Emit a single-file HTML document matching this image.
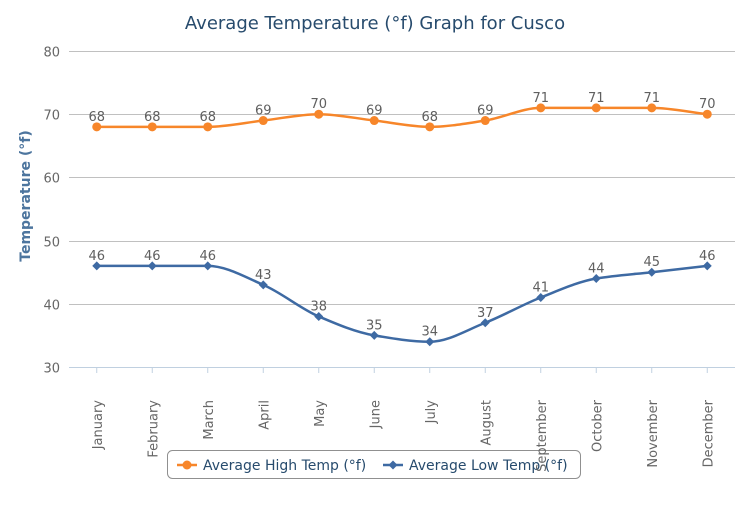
<!DOCTYPE html>
<html><head><meta charset="utf-8"><style>
body{margin:0;background:#fff;font-family:"Liberation Sans","DejaVu Sans",sans-serif}
svg text{font-family:"DejaVu Sans","Liberation Sans",sans-serif}
</style></head><body>
<svg id="c" width="750" height="500">
<text x="375" y="29" text-anchor="middle" font-size="18" fill="#274b6d">Average Temperature (°f) Graph for Cusco</text>
<text transform="translate(30,196) rotate(-90)" text-anchor="middle" font-size="14" font-weight="bold" fill="#4d759e">Temperature (°f)</text>
<g>
<rect x="167.5" y="450.5" width="413" height="28" rx="5" fill="#fff" stroke="#909090"/>
<g>
<line x1="177" y1="465" x2="197" y2="465" stroke="#f7862a" stroke-width="2.5"/><circle cx="187" cy="465" r="4.5" fill="#f7862a"/>
<text x="203" y="470" font-size="14" fill="#274b6d">Average High Temp (°f)</text></g>
<g>
<line x1="383" y1="465" x2="403" y2="465" stroke="#3e6aa3" stroke-width="2.5"/><path d="M393 460.5 L397.5 465 L393 469.5 L388.5 465Z" fill="#3e6aa3"/>
<text x="409" y="470" font-size="14" fill="#274b6d">Average Low Temp (°f)</text></g>
</g>
<g id="grid"></g><g id="xl"></g><g id="series"></g>
</svg>
<script>
const categories=["January","February","March","April","May","June","July","August","September","October","November","December"];
const highTemps=[68,68,68,69,70,69,68,69,71,71,71,70];
const lowTemps=[46,46,46,43,38,35,34,37,41,44,45,46];
const yTicks=[30,40,50,60,70,80];
const NS="http://www.w3.org/2000/svg";
const L=69,R=735,T=51,B=367,ymin=30,ymax=80;
const step=(R-L)/categories.length;
const xs=i=>L+step*(i+0.5);
const ys=v=>B-(v-ymin)/(ymax-ymin)*(B-T);
function mk(tag,attrs,parent){const e=document.createElementNS(NS,tag);for(const k in attrs)e.setAttribute(k,attrs[k]);parent.appendChild(e);return e;}
const grid=document.getElementById('grid');
yTicks.forEach(t=>{
 const y=Math.round(ys(t))+0.5;
 const l=mk('line',{x1:L,x2:R,y1:y,y2:y,stroke:t===ymin?'#c0d0e0':'#c0c0c0','stroke-width':1},grid);
 
 
 const tx=mk('text',{x:L-9,y:y+5,'text-anchor':'end','font-size':13,fill:'#666'},grid);
 tx.textContent=t;
 
 
});
const xl=document.getElementById('xl');
categories.forEach((c,i)=>{
 const x=xs(i);
 const tk=mk('line',{x1:x,x2:x,y1:B,y2:B+6,stroke:'#c0d0e0'},xl);
 
 
 const t=mk('text',{transform:`translate(${x+5},400) rotate(-90)`,'text-anchor':'end','font-size':13,fill:'#666'},xl);
 t.textContent=c;
 
 
});
function spline(pts){
 const n=pts.length,d=[],m=new Array(n);
 for(let i=0;i<n-1;i++)d.push((pts[i+1][1]-pts[i][1])/(pts[i+1][0]-pts[i][0]));
 m[0]=d[0];m[n-1]=d[n-2];
 for(let i=1;i<n-1;i++){m[i]=(d[i-1]*d[i]<=0)?0:2/(1/d[i-1]+1/d[i]);}
 let s=`M${pts[0][0]} ${pts[0][1]}`;
 for(let i=0;i<n-1;i++){
  const h=(pts[i+1][0]-pts[i][0])/3;
  s+=` C${pts[i][0]+h} ${pts[i][1]+m[i]*h} ${pts[i+1][0]-h} ${pts[i+1][1]-m[i+1]*h} ${pts[i+1][0]} ${pts[i+1][1]}`;
 }
 return s;
}
const ser=document.getElementById('series');
function draw(vals,color,name,marker){
 const g=mk('g',{},ser);
 
 
 const pts=vals.map((v,i)=>[xs(i),ys(v)]);
 const p=mk('path',{d:spline(pts),fill:'none',stroke:color,'stroke-width':2.5},g);
 
 
 pts.forEach((q,i)=>{
  let m;
  if(marker==='circle')m=mk('circle',{cx:q[0],cy:q[1],r:4.5,fill:color},g);
  else m=mk('path',{d:`M${q[0]} ${q[1]-4.5} L${q[0]+4.5} ${q[1]} L${q[0]} ${q[1]+4.5} L${q[0]-4.5} ${q[1]}Z`,fill:color},g);
  
  
  const t=mk('text',{x:q[0],y:q[1]-6,'text-anchor':'middle','font-size':13,fill:'#606060'},g);
  t.textContent=vals[i];
  
  
 });
}
draw(highTemps,'#f7862a','high-temp','circle');
draw(lowTemps,'#3e6aa3','low-temp','diamond');
</script>
</body></html>
